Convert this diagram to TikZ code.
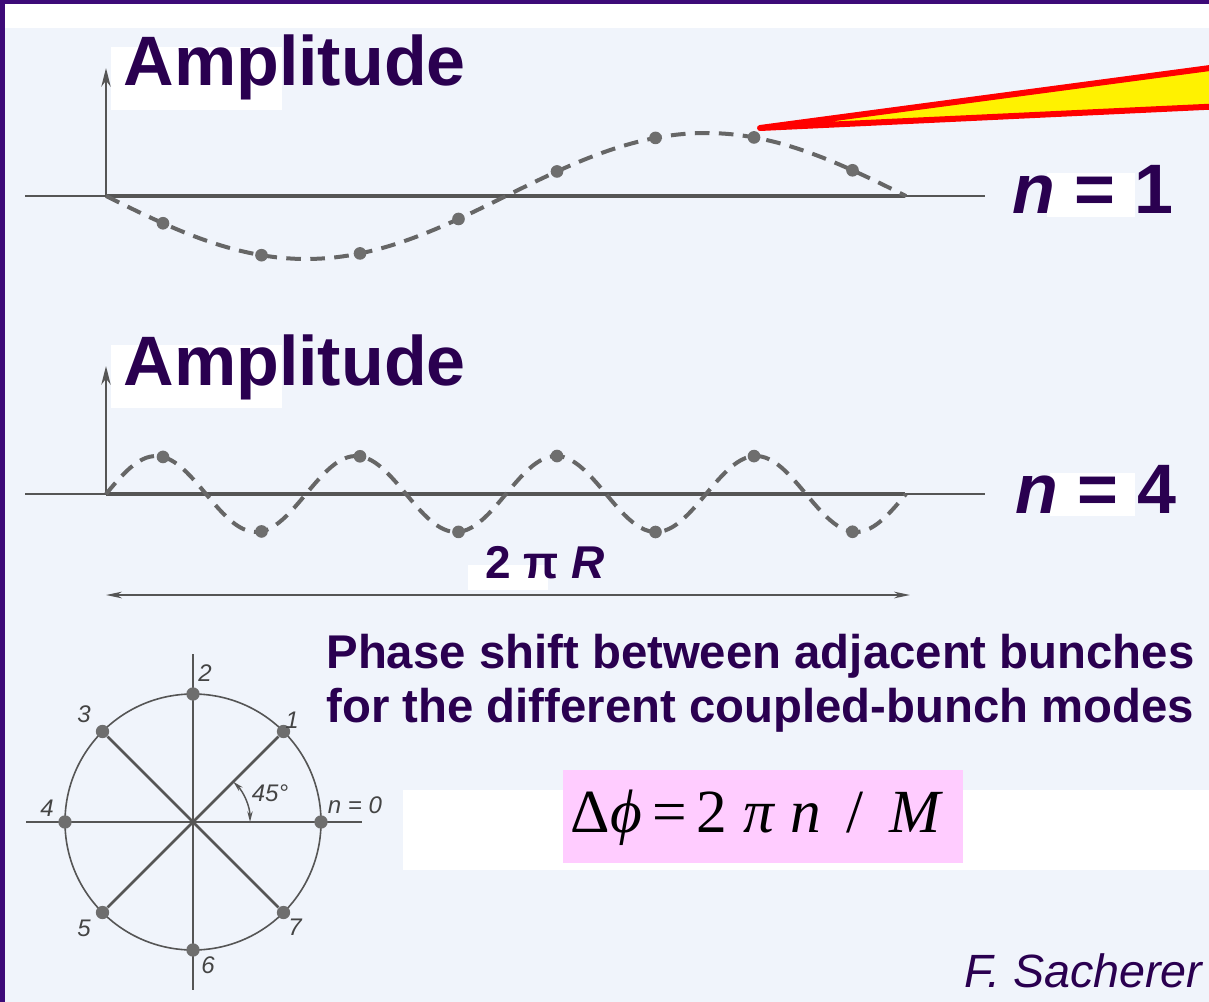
\documentclass[tikz,border=0pt]{standalone}
\usepackage{fontspec}
\setmainfont{Liberation Sans}
\newfontfamily\timesfont{Liberation Serif}
\usetikzlibrary{arrows.meta}

\definecolor{slidebg}{HTML}{F0F4FB}
\definecolor{framepurple}{HTML}{3D0A78}
\definecolor{titlepurple}{HTML}{2A0050}
\definecolor{pencil}{HTML}{555555}
\definecolor{formulapink}{HTML}{FFCCFF}

\tikzset{every picture/.style={line width=0.75pt}}
\tikzset{
  thinaxis/.style={draw=pencil, line width=1pt},
  thickaxis/.style={draw=pencil, line width=2.6pt},
  wave/.style={draw=pencil!90, line width=3pt, dash pattern=on 11pt off 7pt},
  bunch/.style={circle, fill=pencil!85, inner sep=0pt, minimum size=9.5pt},
  wheeldot/.style={circle, fill=pencil!85, inner sep=0pt, minimum size=10pt},
  bigtitle/.style={text=titlepurple, font=\bfseries\fontsize{52.5}{60}\selectfont, inner sep=0pt, anchor=base west},
  midtitle/.style={text=titlepurple, font=\bfseries\fontsize{35.5}{40}\selectfont, inner sep=0pt, anchor=base west},
  hand/.style={text=pencil!80!black, font=\itshape\fontsize{18}{18}\selectfont, inner sep=0pt},
}

\begin{document}
\begin{tikzpicture}[x=0.75pt,y=0.75pt,yscale=-1,xscale=1]
\useasboundingbox (0,0) rectangle (1209,1002);
\clip (0,0) rectangle (1209,1002);

%Shape: Slide background and frame
\fill[slidebg] (0,0) rectangle (1209,1002);
\fill[white] (0,0) rectangle (1209,28);
\fill[framepurple] (0,0) rectangle (1209,4);
\fill[framepurple] (0,0) rectangle (5,1002);

%%% mode n = 1
\coordinate (west1) at (25,196);
\coordinate (o1) at (106,196);
\coordinate (end1) at (905,196);
\coordinate (east1) at (985,196);
\coordinate (top1) at (106,68);
\draw[thinaxis] (west1) -- (east1);
\draw[thickaxis] (o1) -- (end1);
\draw[thinaxis, line width=1.8pt, -{Stealth[length=14pt,width=7pt]}] (o1) -- (top1);
\draw[wave] plot[domain=0:800, samples=120] ({106+\x}, {196+63*sin(0.45*\x)});
\foreach \k in {0,...,7}
  \node[bunch] (p\k) at ({163+98.5*\k}, {196+63*sin(0.45*(57+98.5*\k))}) {};

% white patch + label
\fill[white] (111,47) rectangle (282,110);
\node[bigtitle] (amp1) at (123,86) {Amplitude};

%Shape: yellow pointer
\draw[red, line width=4.5pt, fill=yellow, line join=round] (760,128) -- (1225,66) -- (1225,106) -- cycle;

\fill[white] (1047,173) rectangle (1135,217);
\node[bigtitle] (mode1) at (1012,213) {\textit{n} = 1};

%%% mode n = 4
\coordinate (west4) at (25,494);
\coordinate (o4) at (106,494);
\coordinate (end4) at (905,494);
\coordinate (east4) at (985,494);
\coordinate (top4) at (106,366);
\draw[thinaxis] (west4) -- (east4);
\draw[thickaxis] (o4) -- (end4);
\draw[thinaxis, line width=1.8pt, -{Stealth[length=14pt,width=7pt]}] (o4) -- (top4);
\draw[wave] plot[domain=0:800, samples=200] ({106+\x}, {494-38*sin(1.8*\x)});
\foreach \k in {0,...,7}
  \node[bunch] (q\k) at ({163+98.5*\k}, {494-38*sin(1.8*(57+98.5*\k))}) {};

\fill[white] (111,345) rectangle (282,408);
\node[bigtitle] (amp4) at (123,385) {Amplitude};

\fill[white] (1050,473) rectangle (1135,516);
\node[bigtitle] (mode4) at (1015,513) {\textit{n} = 4};

% circumference
\fill[white] (468,565) rectangle (548,590);
\node[midtitle, font=\bfseries\fontsize{34.5}{40}\selectfont] (circum) at (485,578) {2 π \textit{R}};
\coordinate (ringL) at (106,595);
\coordinate (ringR) at (910,595);
\draw[thinaxis, line width=1.4pt, {Stealth[length=12pt,width=5pt]}-{Stealth[length=12pt,width=5pt]}] (ringL) -- (ringR);

%%% phase wheel
\coordinate (c) at (193,822);
\coordinate (hL) at (26,822);
\coordinate (hR) at (362,822);
\coordinate (vT) at (193,654);
\coordinate (vB) at (193,990);
\draw[pencil, line width=1.2pt] (c) circle (128);
\draw[pencil, line width=1.4pt] (hL) -- (hR);
\draw[pencil, line width=1.4pt] (vT) -- (vB);
\foreach \i in {0,...,7}
  \node[wheeldot] (w\i) at ({193+128*cos(45*\i)}, {822-128*sin(45*\i)}) {};
\draw[pencil, line width=2pt] (w1) -- (w5);
\draw[pencil, line width=2pt] (w3) -- (w7);
\draw[pencil, line width=1.1pt, {Stealth[length=8pt,width=4pt]}-{Stealth[length=8pt,width=4pt]}] (250,822) arc (0:-45:57);

% Text Node
\node[hand] (n0) at (355,805) {n = 0};
\node[hand] (l1) at (292,720) {1};
\node[hand] (l2) at (205,673) {2};
\node[hand] (l3) at (84,714) {3};
\node[hand] (l4) at (47,808) {4};
\node[hand] (l5) at (84,928) {5};
\node[hand] (l6) at (208,965) {6};
\node[hand] (l7) at (295,927) {7};
\node[hand] (deg) at (270,793) {45°};

%%% phase shift text
\node[midtitle] (line1) at (326,668) {Phase shift between adjacent bunches};
\node[midtitle] (line2) at (326,722) {for the different coupled-bunch modes};

\fill[white] (403,790) rectangle (1209,870);
\fill[formulapink] (563,770) rectangle (963,863);
\node[inner sep=0pt, anchor=base, font=\timesfont\fontsize{46}{50}\selectfont] (dphi) at (757,832)
  {Δ\textit{ϕ}\,=\,2 \textit{π} \textit{n}\, /\, \textit{M}};

\node[inner sep=0pt, anchor=base east, text=titlepurple, font=\itshape\fontsize{35}{40}\selectfont] (author) at (1203,987) {F. Sacherer};

\end{tikzpicture}
\end{document}
